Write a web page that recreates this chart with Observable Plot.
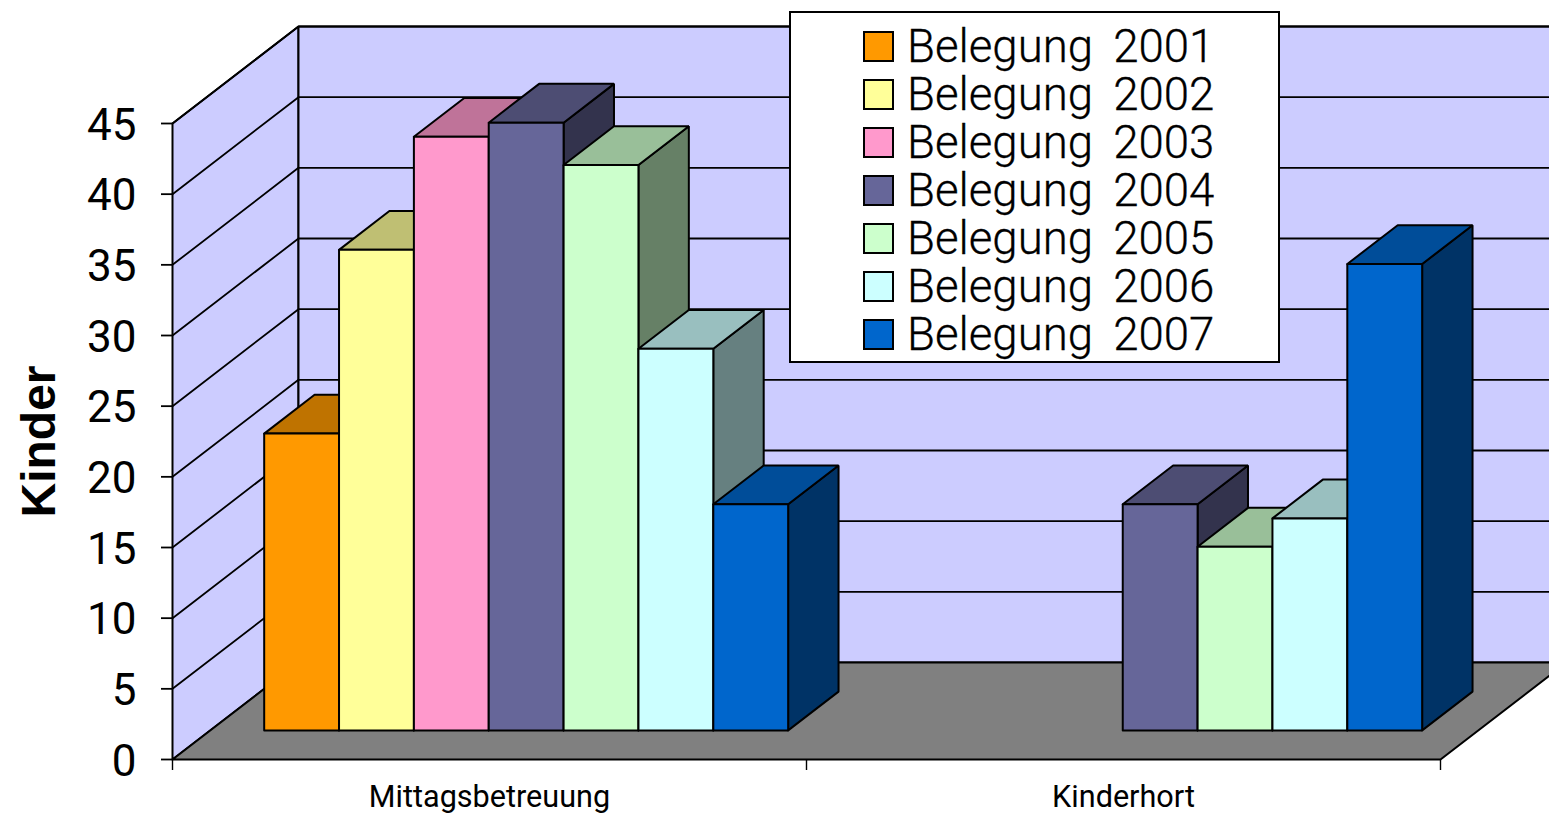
<!DOCTYPE html>
<html>
<head>
<meta charset="utf-8">
<script src="https://cdn.jsdelivr.net/npm/d3@7"></script>
<script src="https://cdn.jsdelivr.net/npm/@observablehq/plot@0.6"></script>
<style>
  html, body { margin: 0; padding: 0; background: #fff; overflow: hidden; }
  #wrap { position: relative; width: 1549px; height: 816px; font-family: Roboto, "Liberation Sans", sans-serif; }
  #wrap svg { display: block; }
  #legend { position: absolute; left: 789px; top: 11px; width: 491px; height: 352px; box-sizing: border-box;
            background: #fff; border: 2px solid #000; padding: 9px 0 0 72px; }
  .row { display: flex; align-items: center; height: 48px; font-size: 45.6px; font-weight: 300; word-spacing: 9px; color: #000; white-space: pre; -webkit-text-stroke: 0.3px #000; }
  .sw { width: 27px; height: 27px; border: 2px solid #000; box-sizing: content-box; margin-right: 13px; flex: none; margin-top: 1px; }
</style>
</head>
<body>
<div id="wrap"></div>
<script>
// ---- chart values ----
const categories = ["Mittagsbetreuung", "Kinderhort"];
const years = ["Belegung 2001", "Belegung 2002", "Belegung 2003", "Belegung 2004", "Belegung 2005", "Belegung 2006", "Belegung 2007"];
const belegung2001 = [21, null];
const belegung2002 = [34, null];
const belegung2003 = [42, null];
const belegung2004 = [43, 16];
const belegung2005 = [40, 13];
const belegung2006 = [27, 15];
const belegung2007 = [16, 33];
const series = [belegung2001, belegung2002, belegung2003, belegung2004, belegung2005, belegung2006, belegung2007];
const frontColors = ["#FF9900", "#FFFF99", "#FF99CC", "#666699", "#CCFFCC", "#CCFFFF", "#0066CC"];
const topColors   = ["#BF7300", "#BFBF73", "#BF7399", "#4D4D73", "#99BF99", "#99BFBF", "#004D99"];
const sideColors  = ["#804D00", "#808066", "#804D66", "#33334D", "#668066", "#668080", "#003366"];
const yTicks = [0, 5, 10, 15, 20, 25, 30, 35, 40, 45];
const wallColor = "#CCCCFF";
const floorColor = "#808080";

// ---- oblique projection, expressed in scale units ----
const groupSpan = 8.47;          // slots per category
const groupGap = 0.72;           // slots before first bar
const depthX = 1.683;            // slots moved at full depth
const depthY = 6.863;            // value units moved at full depth
const barNear = 0.3, barFar = 0.7;
const xMax = groupSpan * categories.length;
const yMax = 45;

const P = (x, v, d) => ({x: x + d * depthX, y: v + d * depthY});

let uid = 0;
function face(points, fill) {
  const id = uid++;
  return [...points, points[0]].map(p => ({...p, id, fill}));
}

const walls = [
  ...face([P(0, 0, 0), P(0, 0, 1), P(0, yMax, 1), P(0, yMax, 0)], wallColor),
  ...face([P(0, 0, 1), P(xMax, 0, 1), P(xMax, yMax, 1), P(0, yMax, 1)], wallColor),
  ...face([P(0, 0, 0), P(xMax, 0, 0), P(xMax, 0, 1), P(0, 0, 1)], floorColor)
];

const grid = yTicks.filter(v => v > 0).flatMap(v =>
  [P(0, v, 0), P(0, v, 1), P(xMax, v, 1)].map(p => ({...p, v})));

const bars = [];
categories.forEach((c, ci) => {
  series.forEach((values, si) => {
    const v = values[ci];
    if (v == null) return;
    const x0 = ci * groupSpan + groupGap + si, x1 = x0 + 1;
    bars.push(...face([P(x1, 0, barNear), P(x1, 0, barFar), P(x1, v, barFar), P(x1, v, barNear)], sideColors[si]));
    bars.push(...face([P(x0, v, barNear), P(x1, v, barNear), P(x1, v, barFar), P(x0, v, barFar)], topColors[si]));
    bars.push(...face([P(x0, 0, barNear), P(x1, 0, barNear), P(x1, v, barNear), P(x0, v, barNear)], frontColors[si]));
  });
});

const polyOpts = {x: "x", y: "y", z: "id", fill: "fill", stroke: "#000", strokeWidth: 2, strokeLinejoin: "miter"};
const catCenters = categories.map((c, i) => (i + 0.5) * groupSpan);

const chart = Plot.plot({
  width: 1549, height: 816,
  marginLeft: 172, marginRight: 109, marginTop: 123, marginBottom: 57,
  style: {background: "transparent", fontFamily: "Roboto, 'Liberation Sans', sans-serif", color: "#000"},
  x: {domain: [0, xMax], axis: null},
  y: {domain: [0, yMax], axis: null},
  color: {type: "identity"},
  marks: [
    Plot.line(walls, polyOpts),
    Plot.line(grid, {x: "x", y: "y", z: "v", stroke: "#000", strokeWidth: 1.8}),
    Plot.line(bars, polyOpts),
    Plot.axisY({ticks: yTicks, tickSize: 11, tickFormat: () => "", label: null, strokeWidth: 1.8}),
    Plot.axisY({ticks: yTicks, tickSize: 0, tickPadding: 36, fontSize: 44, fontWeight: 400, dy: 2, tickFormat: d => String(d), label: null}),
    Plot.axisX({ticks: [0, groupSpan, xMax], tickSize: 11, tickFormat: () => "", label: null, strokeWidth: 1.4}),
    Plot.axisX({ticks: catCenters, tickSize: 0, tickPadding: 26, fontSize: 30.6, label: null,
      tickFormat: d => categories[catCenters.indexOf(d)]}),
    Plot.text(["Kinder"], {x: -1.78, y: 22.5, rotate: -90, fontSize: 48, fontWeight: "bold", fontFamily: "'Liberation Sans', sans-serif", text: d => d})
  ]
});
const wrap = document.getElementById("wrap");
wrap.appendChild(chart);

const legend = document.createElement("div");
legend.id = "legend";
years.forEach((name, i) => {
  const row = document.createElement("div");
  row.className = "row";
  const sw = document.createElement("span");
  sw.className = "sw";
  sw.style.background = frontColors[i];
  const label = document.createElement("span");
  label.textContent = name;
  row.append(sw, label);
  legend.appendChild(row);
});
wrap.appendChild(legend);
</script>
</body>
</html>
